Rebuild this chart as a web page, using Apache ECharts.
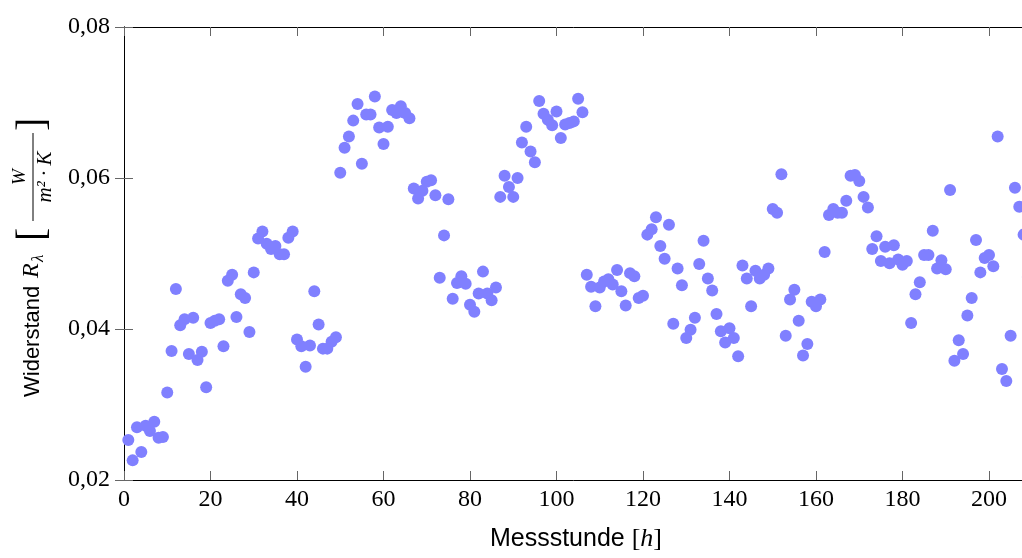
<!DOCTYPE html>
<html>
<head>
<meta charset="utf-8">
<script src="https://cdn.jsdelivr.net/npm/echarts@6/dist/echarts.min.js"></script>
<style>
html,body{margin:0;padding:0;background:#fff;}
#chart{width:1022px;height:558px;}
</style>
</head>
<body>
<div id="chart"></div>
<script>
// Widerstand R_lambda, one measurement per hour, starting at hour 1
const firstHour = 1;
const resistance = [
0.0253,0.0226,0.0270,0.0237,0.0272,0.0265,0.0277,0.0256,0.0257,0.0316,
0.0371,0.0453,0.0405,0.0413,0.0367,0.0415,0.0359,0.0370,0.0323,0.0408,
0.0411,0.0413,0.0377,0.0464,0.0472,0.0416,0.0446,0.0441,0.0396,0.0475,
0.0520,0.0529,0.0513,0.0506,0.0510,0.0499,0.0499,0.0521,0.0529,0.0386,
0.0377,0.0350,0.0378,0.0450,0.0406,0.0374,0.0374,0.0383,0.0389,0.0607,
0.0640,0.0655,0.0676,0.0698,0.0619,0.0684,0.0684,0.0708,0.0667,0.0645,
0.0668,0.0690,0.0686,0.0695,0.0686,0.0679,0.0586,0.0573,0.0583,0.0595,
0.0597,0.0577,0.0468,0.0524,0.0572,0.0440,0.0461,0.0470,0.0460,0.0432,
0.0423,0.0447,0.0476,0.0447,0.0438,0.0455,0.0575,0.0603,0.0588,0.0575,
0.0600,0.0647,0.0668,0.0635,0.0621,0.0702,0.0685,0.0677,0.0670,0.0688,
0.0653,0.0671,0.0673,0.0675,0.0705,0.0687,0.0472,0.0456,0.0430,0.0455,
0.0463,0.0466,0.0459,0.0478,0.0450,0.0431,0.0474,0.0470,0.0441,0.0444,
0.0525,0.0532,0.0548,0.0510,0.0493,0.0538,0.0407,0.0480,0.0458,0.0388,
0.0399,0.0415,0.0486,0.0517,0.0467,0.0451,0.0420,0.0397,0.0382,0.0401,
0.0388,0.0364,0.0484,0.0467,0.0430,0.0477,0.0467,0.0472,0.0480,0.0559,
0.0554,0.0605,0.0391,0.0439,0.0452,0.0411,0.0365,0.0380,0.0436,0.0430,
0.0439,0.0502,0.0551,0.0559,0.0554,0.0554,0.0570,0.0603,0.0604,0.0596,
0.0575,0.0561,0.0506,0.0523,0.0490,0.0509,0.0487,0.0511,0.0492,0.0485,
0.0490,0.0408,0.0446,0.0462,0.0498,0.0498,0.0530,0.0480,0.0491,0.0479,
0.0584,0.0358,0.0385,0.0367,0.0418,0.0441,0.0518,0.0475,0.0494,0.0498,
0.0483,0.0655,0.0347,0.0331,0.0391,0.0587,0.0562,0.0525,0.0469
];
const xTicks = [0,20,40,60,80,100,120,140,160,180,200];
const yTicks = [0.02,0.04,0.06,0.08];
const xMin = 0, xMax = 209, xStep = 20;
const yMin = 0.02, yMax = 0.08, yStep = 0.02;

const points = resistance.map((v, i) => [firstHour + i, v]);

const serif = "'Liberation Serif', 'DejaVu Serif', serif";
const sans = "'Liberation Sans', 'DejaVu Sans', sans-serif";
const fmtY = v => v.toFixed(2).replace('.', ',');

const chart = echarts.init(document.getElementById('chart'), null, {renderer: 'canvas'});

const tickStyle = {show: true, inside: true, length: 9, lineStyle: {color: '#666', width: 1}};
const lineStyle = {show: true, lineStyle: {color: '#000', width: 1}};

function txt(x, y, text, font, align) {
  return {type: 'text', x: x, y: y, style: {text: text, font: font, fill: '#000',
    align: align || 'left', verticalAlign: 'middle', textAlign: align || 'left', textVerticalAlign: 'middle'}};
}

chart.setOption({
  animation: false,
  backgroundColor: '#fff',
  grid: {left: 124, top: 27, width: 4.325 * xMax, height: 453, containLabel: false, outerBoundsMode: 'none'},
  xAxis: [{
    type: 'value', min: xMin, max: xMax, interval: xStep, position: 'bottom',
    axisLine: lineStyle, axisTick: tickStyle, splitLine: {show: false},
    axisLabel: {show: true, showMaxLabel: false, margin: 8, color: '#000', fontFamily: serif, fontSize: 24,
      formatter: v => xTicks.includes(v) ? String(v) : ''},
    name: 'Messstunde {m|[}{i|h}{m|]}', nameLocation: 'middle', nameGap: 46,
    nameTextStyle: {color: '#000', fontFamily: sans, fontSize: 25,
      rich: {m: {fontFamily: serif, fontSize: 26, color: '#000'}, i: {fontFamily: serif, fontStyle: 'italic', fontSize: 26, color: '#000'}}}
  }, {
    type: 'value', min: xMin, max: xMax, interval: xStep, position: 'top',
    axisLine: lineStyle, axisTick: tickStyle, axisLabel: {show: false}, splitLine: {show: false}
  }],
  yAxis: [{
    type: 'value', min: yMin, max: yMax, interval: yStep, position: 'left',
    axisLine: lineStyle, axisTick: tickStyle, splitLine: {show: false},
    axisLabel: {margin: 14, color: '#000', fontFamily: serif, fontSize: 24,
      formatter: v => yTicks.some(t => Math.abs(t - v) < 1e-9) ? fmtY(v) : ''}
  }, {
    type: 'value', min: yMin, max: yMax, interval: yStep, position: 'right',
    axisLine: lineStyle, axisTick: tickStyle, axisLabel: {show: false}, splitLine: {show: false}
  }],
  series: [{
    type: 'scatter', data: points, symbol: 'circle', symbolSize: 12,
    itemStyle: {color: '#8080ff', opacity: 1}, clip: false
  }],
  graphic: [{
    type: 'group', x: 33, y: 257, rotation: Math.PI / 2,
    children: [
      txt(-140, 0, 'Widerstand', '22px ' + sans),
      txt(-21, -1, 'R', 'italic 24px ' + serif),
      txt(-5, 6, 'λ', 'italic 17px ' + serif),
      txt(16, 0, '[', '40px ' + serif),
      txt(80, -13, 'W', 'italic 19px ' + serif, 'center'),
      {type: 'line', shape: {x1: 36, y1: 0, x2: 124, y2: 0}, style: {stroke: '#000', lineWidth: 1}},
      txt(80, 12, 'm² · K', 'italic 21px ' + serif, 'center'),
      txt(126, 0, ']', '40px ' + serif)
    ]
  }]
});
</script>
</body>
</html>
